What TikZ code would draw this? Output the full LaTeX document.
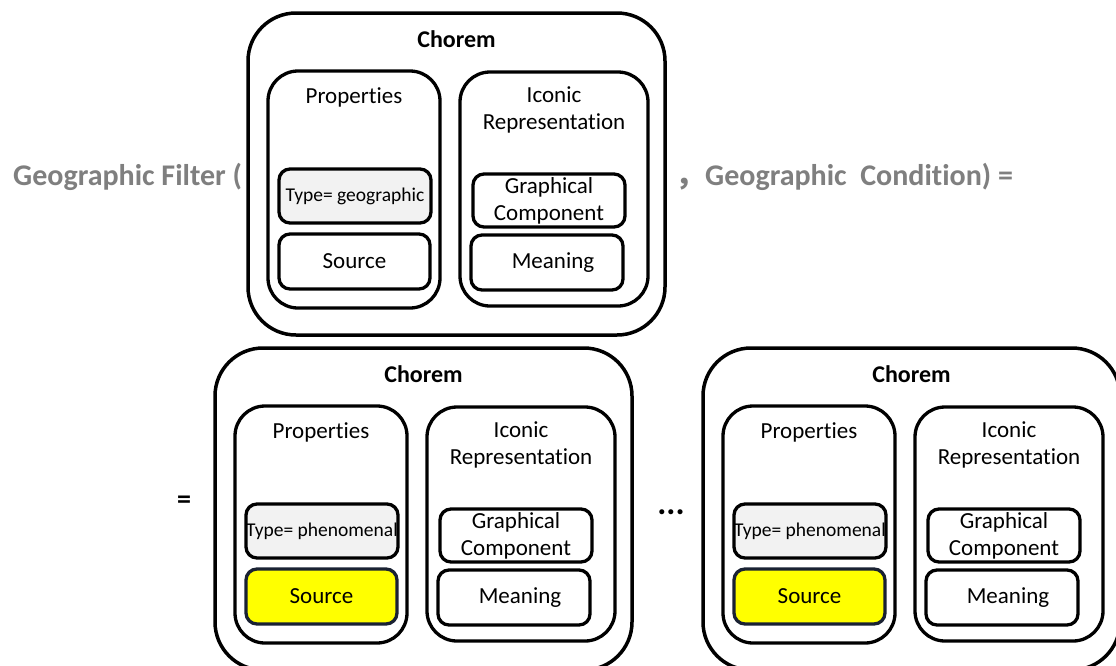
\documentclass[tikz,border=0pt]{standalone}
\usepackage{fontspec}
\setmainfont{Carlito}[Ligatures={NoCommon}]
\newfontfamily\cjk{Noto Sans CJK SC}
\definecolor{graytxt}{HTML}{7F7F7F}
\definecolor{typefill}{HTML}{F2F2F2}
\definecolor{srcfill}{HTML}{FFFF00}
\definecolor{srcline}{HTML}{1A2233}
\tikzset{
  outerbox/.style={draw=black, line width=3.5pt, rounded corners=48pt, inner sep=0pt, fill=white},
  contbox/.style={draw=black, line width=3.3pt, rounded corners=30pt, inner sep=0pt},
  smallbox/.style={draw=black, line width=3.3pt, rounded corners=11pt, inner sep=0pt, align=center, font=\fontsize{23}{27}\selectfont},
  titletxt/.style={font=\bfseries\fontsize{24}{28}\selectfont, inner sep=0pt},
  conttxt/.style={font=\fontsize{23}{27}\selectfont, align=center, inner sep=0pt},
  typetxt/.style={smallbox, fill=typefill, font=\fontsize{19.5}{23}\selectfont},
  srcbox/.style={smallbox, fill=srcfill, draw=srcline},
  plainbox/.style={smallbox, fill=white},
  graylabel/.style={font=\bfseries\fontsize{30}{34}\selectfont, text=graytxt, inner sep=0pt, anchor=base west},
  blacksym/.style={font=\bfseries\fontsize{28}{32}\selectfont, inner sep=0pt},
  dotsym/.style={font=\bfseries\fontsize{34}{38}\selectfont, inner sep=0pt}
}
\newcommand\drawchorem[5]{%
  \begin{scope}[shift={(#2,#3)}]
    \node[outerbox, minimum width=417pt, minimum height=322pt] (#1o) at (208.5,161) {};
    \node[titletxt] (#1t) at (208.5,26) {Chorem};
    \node[contbox, minimum width=172pt, minimum height=237pt] (#1p) at (106,176.5) {};
    \node[conttxt] (#1pt) at (106,84) {Properties};
    \node[contbox, minimum width=188pt, minimum height=234pt] (#1i) at (306,176) {};
    \node[conttxt] (#1it) at (306,97) {Iconic\\Representation};
    \node[typetxt, minimum width=152pt, minimum height=54pt] (#1ty) at (107,183) {#4};
    \node[#5, minimum width=151pt, minimum height=55pt] (#1s) at (106.5,248.5) {Source};
    \node[plainbox, minimum width=152pt, minimum height=53pt] (#1g) at (301,187.5) {Graphical\\Component};
    \node[plainbox, minimum width=152pt, minimum height=55pt] (#1m) at (299,249.5) {\hspace*{12pt}Meaning};
  \end{scope}}
\begin{document}
\begin{tikzpicture}[x=1pt, y=-1pt]
  \useasboundingbox (0,0) rectangle (1116,665);
  \clip (0,0) rectangle (1116,665);
  \fill[white] (0,0) rectangle (1116,665);
  \drawchorem{a}{248}{13}{Type= geographic}{plainbox}
  \drawchorem{b}{215}{348}{Type= phenomenal}{srcbox}
  \drawchorem{c}{703}{348}{Type= phenomenal}{srcbox}
  \node[graylabel] (gf) at (13,185) {Geographic Filter (};
  \node[graylabel] (gc) at (675,185) {{\cjk ，}Geographic\ \ Condition) =};
  \node[blacksym] (eq) at (184,502) {=};
  \node[dotsym] (dots) at (671,512) {...};
\end{tikzpicture}
\end{document}
